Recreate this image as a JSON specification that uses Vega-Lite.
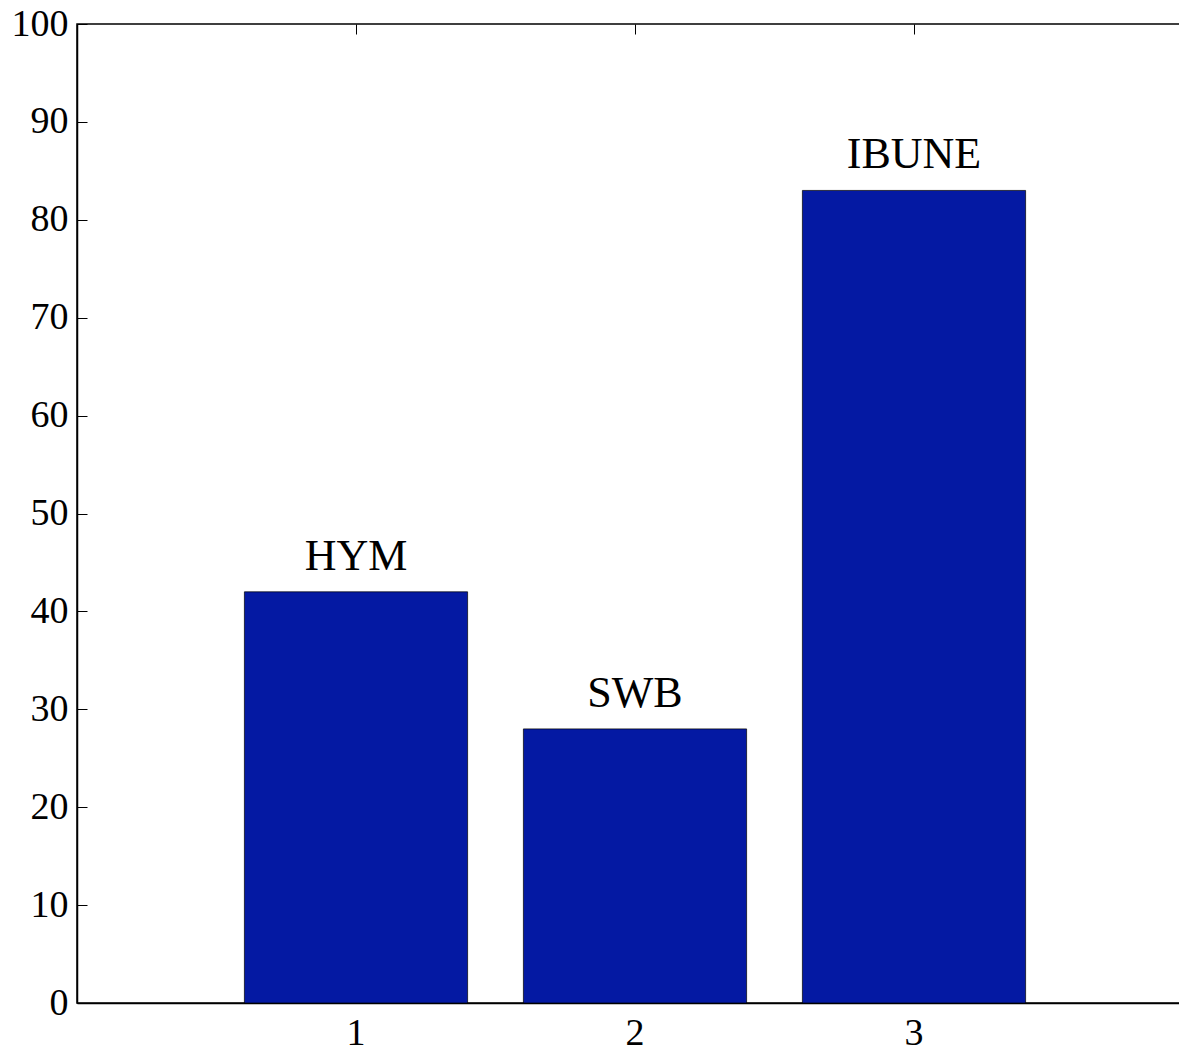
{
  "$schema": "https://vega.github.io/schema/vega-lite/v6.json",
  "width": 1116,
  "height": 979,
  "autosize": {"type": "none"},
  "padding": {"left": 77, "top": 24, "right": 0, "bottom": 49},
  "background": "white",
  "config": {
    "view": {"stroke": "black", "strokeWidth": 1.5},
    "axis": {
      "labelFont": "Liberation Serif",
      "labelFontSize": 38,
      "labelColor": "black",
      "domainColor": "black",
      "domainWidth": 1.5,
      "tickColor": "black",
      "tickWidth": 1,
      "tickSize": -10,
      "grid": false,
      "title": null
    }
  },
  "data": {"values": [
    {"n": "1", "value": 42, "label": "HYM"},
    {"n": "2", "value": 28, "label": "SWB"},
    {"n": "3", "value": 83, "label": "IBUNE"}
  ]},
  "layer": [
    {
      "mark": {"type": "bar", "color": "#0419A3", "stroke": "black", "strokeWidth": 0.7},
      "encoding": {
        "x": {"field": "n", "type": "ordinal",
              "scale": {"paddingInner": 0.2, "paddingOuter": 0.6},
              "axis": {"orient": "bottom", "labelAngle": 0, "labelPadding": 21}},
        "y": {"field": "value", "type": "quantitative",
              "scale": {"domain": [0, 100], "nice": false, "zero": true},
              "axis": {"orient": "left", "values": [0,10,20,30,40,50,60,70,80,90,100], "labelPadding": 19}}
      }
    },
    {
      "mark": {"type": "text", "font": "Liberation Serif", "fontSize": 44, "color": "black", "baseline": "alphabetic", "dy": -22},
      "encoding": {
        "x": {"field": "n", "type": "ordinal",
              "axis": {"orient": "top", "labels": false, "domain": false}},
        "y": {"field": "value", "type": "quantitative",
              "axis": {"orient": "right", "labels": false, "domain": false, "values": [0,10,20,30,40,50,60,70,80,90,100]}},
        "text": {"field": "label"}
      }
    }
  ],
  "resolve": {"axis": {"x": "independent", "y": "independent"}}
}
